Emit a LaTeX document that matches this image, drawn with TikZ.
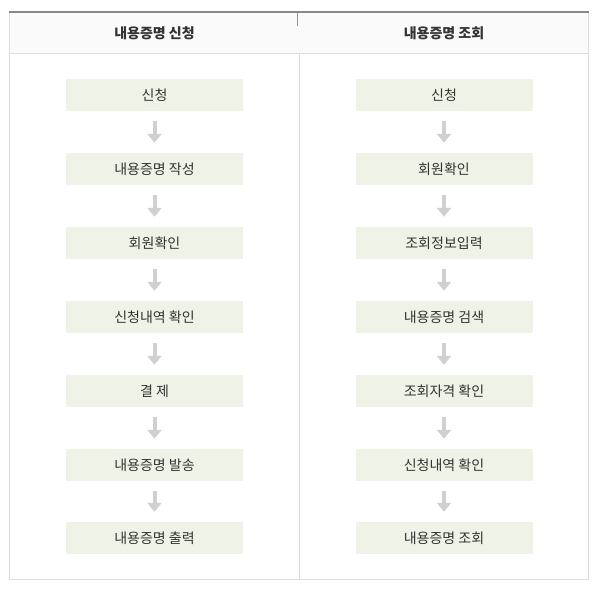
\documentclass[tikz,border=0pt]{standalone}
\usepackage{fontspec}
\setmainfont{Noto Sans CJK KR}
\usetikzlibrary{arrows.meta}
\definecolor{boxfill}{RGB}{239,242,230}
\definecolor{headfill}{RGB}{250,250,250}
\definecolor{rulegray}{RGB}{221,221,221}
\definecolor{topgray}{RGB}{136,136,136}
\definecolor{arrowgray}{RGB}{208,208,208}
\definecolor{textgray}{RGB}{51,51,51}
\tikzset{
  stepbox/.style={fill=boxfill,minimum width=177pt,minimum height=32pt,inner sep=0pt,
    text=textgray,font=\fontsize{14}{16}\selectfont},
  headtext/.style={text=textgray,font=\fontsize{14}{16}\selectfont\bfseries},
  flow/.style={arrowgray,line width=4pt,-{Triangle[width=14pt,length=9pt]},
    shorten <=10pt,shorten >=10pt}
}

\begin{document}
\begin{tikzpicture}[line cap=butt,line join=miter,x=1pt,y=-1pt]
		\useasboundingbox (0,0) rectangle (598,594);
		% table frame
		\fill [headfill] (9.5,12) rectangle (588.5,53.5);
		\draw [rulegray,line width=1pt] (9.5,12) -- (9.5,579) -- (588.5,579) -- (588.5,12);
		\draw [rulegray,line width=1pt] (9.5,53.5) -- (588.5,53.5);
		\draw [rulegray,line width=1pt] (299.5,53.5) -- (299.5,579);
		\draw [topgray!90!white,line width=1pt] (297.5,12) -- (297.5,26);
		\draw [topgray,line width=2pt] (9,12) -- (589,12);
		% headers
		\node [headtext] (hL) at (154.5,33) {내용증명 신청};
		\node [headtext] (hR) at (444,33) {내용증명 조회};
		% left column
		\node [stepbox] (L1) at (154.5,95) {신청};
		\node [stepbox] (L2) at (154.5,169) {내용증명 작성};
		\node [stepbox] (L3) at (154.5,243) {회원확인};
		\node [stepbox] (L4) at (154.5,317) {신청내역 확인};
		\node [stepbox] (L5) at (154.5,391) {결 제};
		\node [stepbox] (L6) at (154.5,465) {내용증명 발송};
		\node [stepbox] (L7) at (154.5,538) {내용증명 출력};
		\draw [flow] (L1) -- (L2);
		\draw [flow] (L2) -- (L3);
		\draw [flow] (L3) -- (L4);
		\draw [flow] (L4) -- (L5);
		\draw [flow] (L5) -- (L6);
		\draw [flow] (L6) -- (L7);
		% right column
		\node [stepbox] (R1) at (444,95) {신청};
		\node [stepbox] (R2) at (444,169) {회원확인};
		\node [stepbox] (R3) at (444,243) {조회정보입력};
		\node [stepbox] (R4) at (444,317) {내용증명 검색};
		\node [stepbox] (R5) at (444,391) {조회자격 확인};
		\node [stepbox] (R6) at (444,465) {신청내역 확인};
		\node [stepbox] (R7) at (444,538) {내용증명 조회};
		\draw [flow] (R1) -- (R2);
		\draw [flow] (R2) -- (R3);
		\draw [flow] (R3) -- (R4);
		\draw [flow] (R4) -- (R5);
		\draw [flow] (R5) -- (R6);
		\draw [flow] (R6) -- (R7);
	\end{tikzpicture}
\end{document}
